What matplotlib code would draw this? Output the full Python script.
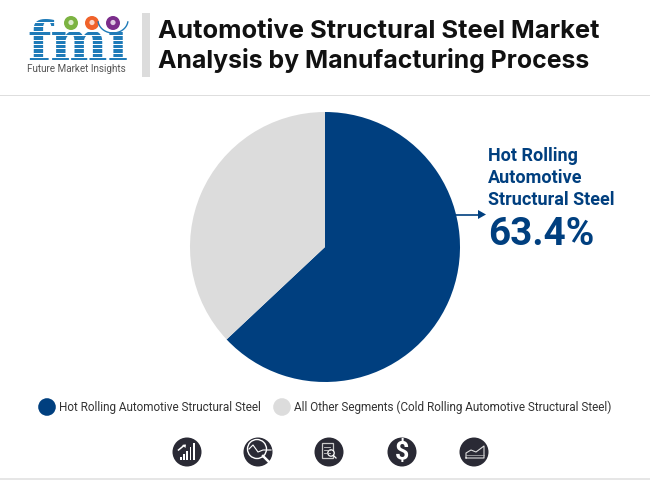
import matplotlib
matplotlib.use('Agg')
import matplotlib.pyplot as plt
from matplotlib.patches import Circle, Rectangle, Polygon
import numpy as np

categories = ['Hot Rolling Automotive Structural Steel',
              'All Other Segments (Cold Rolling Automotive Structural Steel)']
shares = [63.0, 37.0]
colors = ['#003f7f', '#dcdcdc']
title_lines = ['Automotive Structural Steel Market', 'Analysis by Manufacturing Process']
title_sizes = [18.4, 17.9]
callout_lines = ['Hot Rolling', 'Automotive', 'Structural Steel']
callout_value = '63.4%'

plt.rcParams['font.family'] = 'Roboto'
fig = plt.figure(figsize=(6.5, 4.8), dpi=100, facecolor='white')

bg = fig.add_axes([0, 0, 1, 1])
bg.set_xlim(0, 650); bg.set_ylim(480, 0); bg.axis('off')
bg.add_patch(Rectangle((0, 94.5), 650, 1.8, color='#dedede', lw=0))
bg.add_patch(Rectangle((0, 478), 650, 2, color='#e6e6e6', lw=0))
bg.add_patch(Rectangle((142, 13), 8, 64, color='#dcdcdc', lw=0))

for i, line in enumerate(title_lines):
    bg.text(158, 38 + i * 30, line, fontsize=title_sizes[i], fontweight='bold', family='Inter', color='#111111',
            va='baseline', ha='left')

# logo
blue = '#1f7bb8'
bg.text(27, 60, 'fmı', fontsize=39, fontweight='bold', color=blue, family='DejaVu Serif', va='baseline')
for y in np.arange(22, 62, 4.4):
    bg.add_patch(Rectangle((25, y), 105, 1.1, color='white', lw=0, zorder=3))
for cx, c in [(71, '#7cb342'), (92, '#f0622a'), (113, '#7b2d8b')]:
    bg.add_patch(Circle((cx, 23), 7, color=c, lw=0, zorder=4))
    bg.add_patch(Circle((cx, 22.5), 2.6, color='white', alpha=0.75, lw=0, zorder=5))
t = np.linspace(0.15, np.pi - 0.15, 30)
bg.plot(113 + 15 * np.cos(t), 20 + 13 * np.sin(t), color=blue, lw=1, zorder=4)
bg.text(27, 68.5, 'Future Market Insights', fontsize=7.1, color='#555555', va='center', ha='left')

# pie
R = 135
cx, cy = 325, 247
ax = fig.add_axes([(cx - R) / 650, 1 - (cy + R) / 480, 2 * R / 650, 2 * R / 480])
ax.pie(shares, colors=colors, startangle=90, counterclock=False, radius=1,
       wedgeprops={'linewidth': 0})
ax.set_xlim(-1, 1); ax.set_ylim(-1, 1)

# callout
for i, line in enumerate(callout_lines):
    bg.text(488, 161 + i * 22, line, fontsize=13, fontweight='bold', color='#003f7f',
            va='baseline', ha='left')
bg.text(488, 245, callout_value, fontsize=27.8, fontweight='bold', color='#003f7f',
        va='baseline', ha='left')
bg.plot([456, 479], [214.5, 214.5], color='#003f7f', lw=1.2, zorder=5)
bg.add_patch(Polygon([[478, 210], [486, 214.5], [478, 219]], color='#003f7f', lw=0, zorder=5))

# legend
bg.add_patch(Circle((47, 407), 8.8, color=colors[0], lw=0))
bg.text(59, 407, categories[0], fontsize=8.48, color='#333333', va='center', ha='left')
bg.add_patch(Circle((282, 407), 8.8, color=colors[1], lw=0))
bg.text(294, 407, categories[1], fontsize=8.48, color='#333333', va='center', ha='left')

# icons
ic = '#2a2a35'
for x in [187, 258, 329, 402, 474]:
    bg.add_patch(Circle((x, 452), 14.5, color=ic, lw=0))
for k, h in enumerate([3, 6, 9, 13, 17]):
    bg.add_patch(Rectangle((180 + k * 3.2, 460 - h), 1.8, h, color='white', lw=0))
bg.plot([178.5, 184], [450, 445.5], color='white', lw=1.1)
bg.add_patch(Polygon([[182, 445], [186, 444.5], [185.5, 448]], color='white', lw=0))
bg.add_patch(Circle((257, 449), 9.5, fill=False, ec='white', lw=1))
bg.plot([263, 270], [456, 463], color='white', lw=1.8)
bg.plot([249, 253, 258, 263, 271], [449, 445, 452, 450, 450], color='white', lw=0.8)
bg.add_patch(Rectangle((322, 443), 11, 15, fill=False, ec='#cccccc', lw=0.9))
for y in [447, 450, 453]:
    bg.plot([324, 330], [y, y], color='#cccccc', lw=0.6)
bg.add_patch(Circle((331, 453), 3.2, facecolor=ic, ec='white', lw=0.9))
bg.plot([333.5, 336], [455.5, 458], color='white', lw=0.9)
bg.text(402, 452, '$', fontsize=18, fontweight='bold', color='white', ha='center', va='center')
bg.plot([466, 466, 471, 476, 480, 484, 484, 466], [458, 453, 450, 452, 449, 446, 458, 458], color='#dddddd', lw=0.8)
bg.plot([466, 484], [455, 455], color='#bbbbbb', lw=0.5)

fig.savefig('out.png', dpi=100)
